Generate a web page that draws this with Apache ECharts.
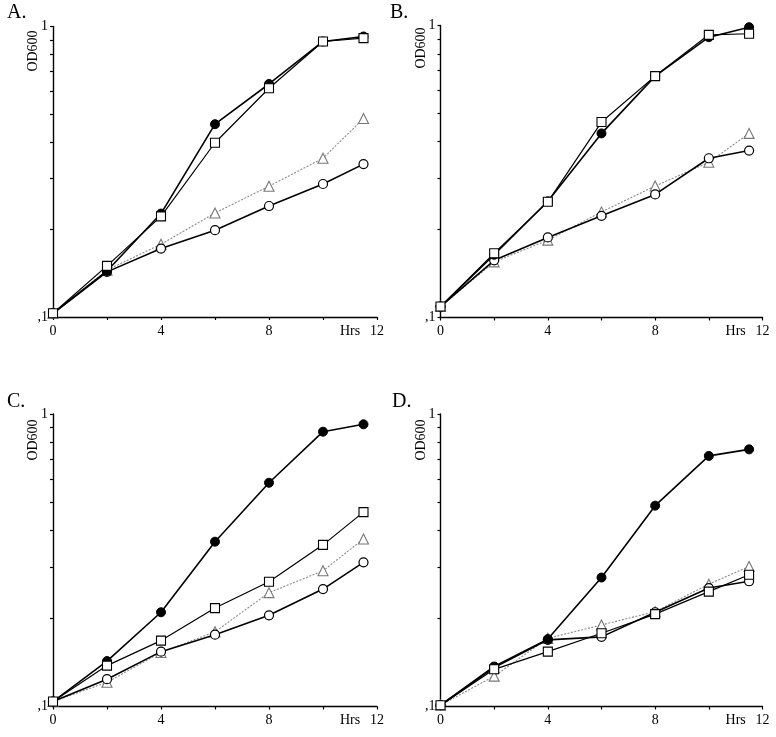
<!DOCTYPE html>
<html>
<head>
<meta charset="utf-8">
<script src="https://cdn.jsdelivr.net/npm/echarts@6/dist/echarts.min.js"></script>
<style>
html,body{margin:0;padding:0;background:#fff;}
#chart{width:776px;height:737px;}
</style>
</head>
<body>
<div id="chart"></div>
<script>
// Time points (hours)
var hours = [0, 2, 4, 6, 8, 10, 11.5];

// Panel labels
var panelNames = ['A.', 'B.', 'C.', 'D.'];

// Axis tick labels
var xLabelValues = [0, 4, 8, 11, 12];
var xLabelTexts = ['0', '4', '8', 'Hrs', '12'];
var yTickValues = [0.1, 0.2, 0.3, 0.4, 0.5, 0.6, 0.7, 0.8, 0.9, 1];
var yLabelValues = [0.1, 1];
var yLabelTexts = [',1', '1'];
var yAxisTitle = 'OD600';

// Panel A
var A_filledCircle = [0.103, 0.144, 0.227, 0.461, 0.634, 0.888, 0.924];
var A_openSquare   = [0.103, 0.150, 0.222, 0.398, 0.613, 0.888, 0.912];
var A_triangle     = [0.103, 0.145, 0.178, 0.228, 0.282, 0.352, 0.482];
var A_openCircle   = [0.103, 0.143, 0.172, 0.199, 0.241, 0.287, 0.336];

// Panel B
var B_filledCircle = [0.109, 0.164, 0.250, 0.427, 0.671, 0.912, 0.987];
var B_openSquare   = [0.109, 0.166, 0.249, 0.467, 0.671, 0.929, 0.937];
var B_triangle     = [0.109, 0.155, 0.184, 0.230, 0.282, 0.340, 0.427];
var B_openCircle   = [0.109, 0.157, 0.188, 0.223, 0.264, 0.351, 0.373];

// Panel C
var C_filledCircle = [0.104, 0.143, 0.210, 0.366, 0.582, 0.870, 0.922];
var C_openSquare   = [0.104, 0.138, 0.168, 0.217, 0.267, 0.357, 0.462];
var C_triangle     = [0.104, 0.121, 0.153, 0.180, 0.245, 0.291, 0.374];
var C_openCircle   = [0.104, 0.124, 0.154, 0.176, 0.205, 0.252, 0.311];

// Panel D
var D_filledCircle = [0.101, 0.137, 0.170, 0.276, 0.486, 0.719, 0.757];
var D_openSquare   = [0.101, 0.134, 0.154, 0.178, 0.207, 0.247, 0.282];
var D_triangle     = [0.101, 0.127, 0.171, 0.190, 0.211, 0.262, 0.301];
var D_openCircle   = [0.101, 0.136, 0.169, 0.173, 0.210, 0.254, 0.268];

var panels = [
  {fc: A_filledCircle, sq: A_openSquare, tr: A_triangle, oc: A_openCircle},
  {fc: B_filledCircle, sq: B_openSquare, tr: B_triangle, oc: B_openCircle},
  {fc: C_filledCircle, sq: C_openSquare, tr: C_triangle, oc: C_openCircle},
  {fc: D_filledCircle, sq: D_openSquare, tr: D_triangle, oc: D_openCircle}
];

var grids = [
  {left: 53, top: 26.5, width: 324, height: 290.5},
  {left: 440.5, top: 25.5, width: 322, height: 292},
  {left: 53, top: 414, width: 324, height: 292.5},
  {left: 440.5, top: 414, width: 322, height: 292.5}
];
var panelLabelPos = [[7, 3], [390, 3], [7, 392], [392, 392]];
var yTitlePos = [[33, 51], [421, 48], [33, 440], [421, 440]];

var FONT = '"Liberation Serif", "DejaVu Serif", serif';

function pairs(arr) { return hours.map(function (t, i) { return [t, arr[i]]; }); }

var option = {
  backgroundColor: '#fff',
  animation: false,
  grid: grids.map(function (g) { return Object.assign({containLabel: false}, g); }),
  xAxis: grids.map(function (g, i) {
    return {
      type: 'value', gridIndex: i, min: 0, max: 12, interval: 2,
      axisLine: {lineStyle: {color: '#000', width: 1.4}},
      axisTick: {show: true, inside: false, length: 3, lineStyle: {color: '#000', width: 1.2}},
      axisLabel: {
        customValues: xLabelValues,
        formatter: function (v) { var k = xLabelValues.indexOf(v); return k >= 0 ? xLabelTexts[k] : ''; },
        color: '#000', fontFamily: FONT, fontSize: 14, margin: 7
      },
      splitLine: {show: false}
    };
  }),
  yAxis: grids.map(function (g, i) {
    return {
      type: 'log', logBase: 10, gridIndex: i, min: 0.1, max: 1,
      axisLine: {show: true, lineStyle: {color: '#000', width: 1.4}},
      axisTick: {show: true, inside: false, length: 3, customValues: yTickValues, lineStyle: {color: '#000', width: 1.2}},
      axisLabel: {
        customValues: yLabelValues,
        formatter: function (v) { return Math.abs(v - 1) < 1e-6 ? yLabelTexts[1] : yLabelTexts[0]; },
        color: '#000', fontFamily: FONT, fontSize: 14, margin: 5
      },
      splitLine: {show: false}
    };
  }),
  graphic: [],
  series: []
};

panels.forEach(function (p, i) {
  option.series.push({
    type: 'line', xAxisIndex: i, yAxisIndex: i, data: pairs(p.tr), z: 2,
    symbol: 'triangle', symbolSize: 10,
    lineStyle: {color: '#8a8a8a', width: 1.1, type: [2, 1.5]},
    itemStyle: {color: '#fff', borderColor: '#777', borderWidth: 1.1}
  });
  option.series.push({
    type: 'line', xAxisIndex: i, yAxisIndex: i, data: pairs(p.oc), z: 3,
    symbol: 'circle', symbolSize: 9,
    lineStyle: {color: '#000', width: 1.6},
    itemStyle: {color: '#fff', borderColor: '#000', borderWidth: 1.2}
  });
  option.series.push({
    type: 'line', xAxisIndex: i, yAxisIndex: i, data: pairs(p.fc), z: 4,
    symbol: 'circle', symbolSize: 9,
    lineStyle: {color: '#000', width: 1.6},
    itemStyle: {color: '#000', borderColor: '#000', borderWidth: 1}
  });
  option.series.push({
    type: 'line', xAxisIndex: i, yAxisIndex: i, data: pairs(p.sq), z: 5,
    symbol: 'rect', symbolSize: 9,
    lineStyle: {color: '#000', width: 1.2},
    itemStyle: {color: '#fff', borderColor: '#000', borderWidth: 1.1}
  });
  option.graphic.push({
    type: 'text', left: panelLabelPos[i][0], top: panelLabelPos[i][1],
    style: {text: panelNames[i], font: '20px ' + FONT, fill: '#000'}
  });
  option.graphic.push({
    type: 'text', x: yTitlePos[i][0], y: yTitlePos[i][1], rotation: Math.PI / 2,
    style: {text: yAxisTitle, font: '14px ' + FONT, fill: '#000', align: 'center', verticalAlign: 'middle'}
  });
});

var chart = echarts.init(document.getElementById('chart'), null, {renderer: 'canvas'});
chart.setOption(option);
</script>
</body>
</html>
